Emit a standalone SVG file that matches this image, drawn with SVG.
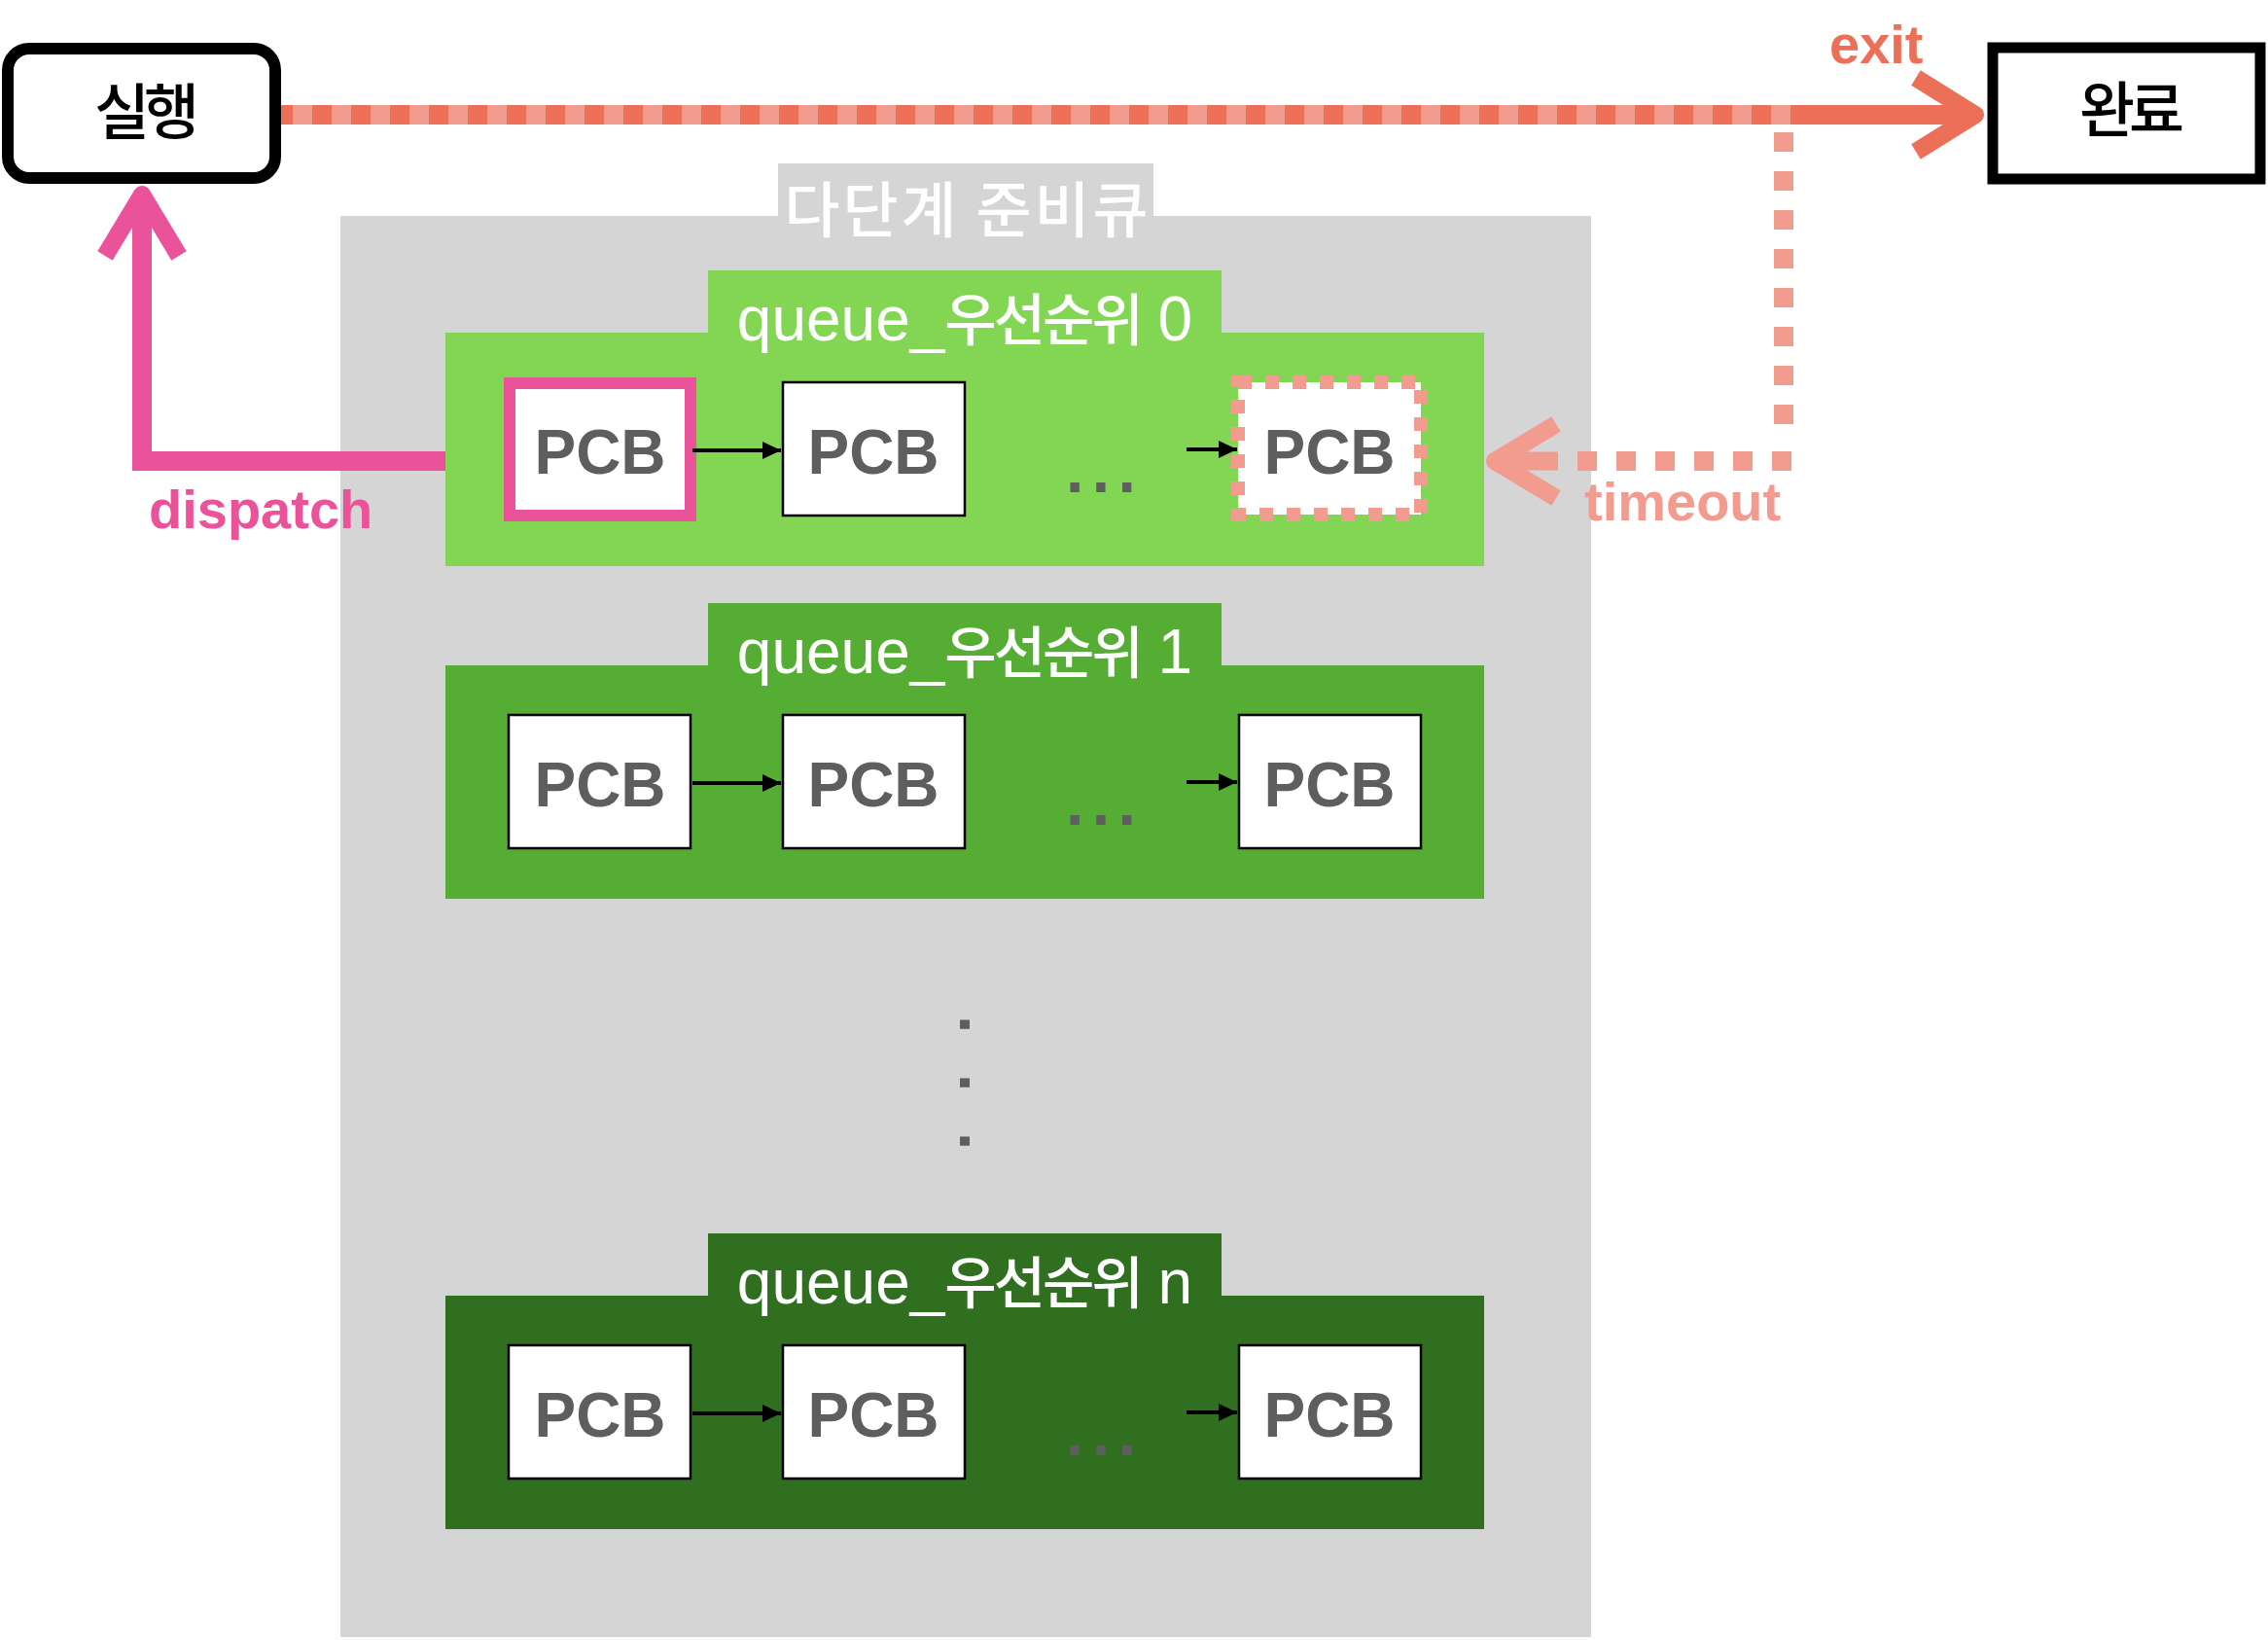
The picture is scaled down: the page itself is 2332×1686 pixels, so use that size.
<svg xmlns="http://www.w3.org/2000/svg" width="2332" height="1686" viewBox="0 0 2332 1686">
  <style>
    .box-label { font-family: 'Noto Sans CJK KR', sans-serif; font-weight: 500; font-size: 62px; fill: #000; text-anchor: middle; letter-spacing: -6px; }
    .q-title { font-family: 'Liberation Sans', 'Noto Sans CJK KR', sans-serif; font-size: 64px; fill: #fff; text-anchor: middle; }
    .hg { font-size: 58px; letter-spacing: -3px; font-weight: 500; }
    .pcb-box { fill: #fff; stroke: #000; stroke-width: 2.5; }
    .pcb-text { font-family: 'Liberation Sans', Arial, sans-serif; font-weight: bold; font-size: 64px; fill: #5e5e5e; text-anchor: middle; }
    .dots { font-family: 'Liberation Sans', Arial, sans-serif; font-weight: bold; font-size: 66px; fill: #5e5e5e; letter-spacing: 8.4px; }
    .link { stroke: #000; stroke-width: 4; fill: none; marker-end: url(#tri); }
    .edge-label { font-family: 'Liberation Sans', Arial, sans-serif; font-weight: bold; font-size: 56px; }
  </style>
  <defs>
    <marker id="tri" markerUnits="userSpaceOnUse" markerWidth="20" markerHeight="20" viewBox="0 0 20 20" refX="19" refY="10" orient="auto">
      <path d="M0,1 L19,10 L0,19 Z" fill="#000"/>
    </marker>
  </defs>

  <rect width="2332" height="1686" fill="#fff"/>

  <!-- multi-level ready queue container -->
  <g id="ready-queue">
    <rect x="800" y="168" width="386" height="56" fill="#d5d5d5"/>
    <rect x="350" y="222" width="1286" height="1461" fill="#d5d5d5"/>
    <text x="995" y="239" style="font-family: 'Noto Sans CJK KR', sans-serif; font-weight: 500; font-size: 62px; fill: #fff; text-anchor: middle; letter-spacing: 3px;">다단계 준비큐</text>
  </g>

  <!-- queue priority 0 -->
  <g id="queue-0">
    <rect x="728" y="278" width="528" height="66" fill="#83d653"/>
    <rect x="458" y="342" width="1068" height="240" fill="#83d653"/>
    <text class="q-title" x="992" y="350">queue_<tspan class="hg">우선순위</tspan> 0</text>
    <g id="q0-pcb1">
      <rect x="524" y="394" width="186" height="136" fill="#fff" stroke="#ea539a" stroke-width="12"/>
      <text class="pcb-text" x="617" y="487">PCB</text>
    </g>
    <g id="q0-pcb2">
      <rect class="pcb-box" x="805" y="393" width="187" height="137"/>
      <text class="pcb-text" x="898" y="487">PCB</text>
    </g>
    <text class="dots" x="1096" y="506">...</text>
    <g id="q0-pcb3">
      <rect x="1273" y="393" width="188" height="136" fill="#fff" stroke="#f29b8f" stroke-width="14" stroke-dasharray="14 14"/>
      <text class="pcb-text" x="1367" y="487">PCB</text>
    </g>
  </g>

  <!-- queue priority 1 -->
  <g id="queue-1">
    <rect x="728" y="620" width="528" height="66" fill="#55ae33"/>
    <rect x="458" y="684" width="1068" height="240" fill="#55ae33"/>
    <text class="q-title" x="992" y="692">queue_<tspan class="hg">우선순위</tspan> 1</text>
    <g id="q1-pcb1">
      <rect class="pcb-box" x="523" y="735" width="187" height="137"/>
      <text class="pcb-text" x="617" y="829">PCB</text>
    </g>
    <g id="q1-pcb2">
      <rect class="pcb-box" x="805" y="735" width="187" height="137"/>
      <text class="pcb-text" x="898" y="829">PCB</text>
    </g>
    <text class="dots" x="1096" y="848">...</text>
    <g id="q1-pcb3">
      <rect class="pcb-box" x="1274" y="735" width="187" height="137"/>
      <text class="pcb-text" x="1367" y="829">PCB</text>
    </g>
  </g>

  <!-- vertical ellipsis -->
  <text class="dots" transform="translate(987,1044) rotate(90)" x="0" y="0" style="letter-spacing:41.7px">...</text>

  <!-- queue priority n -->
  <g id="queue-n">
    <rect x="728" y="1268" width="528" height="66" fill="#306f20"/>
    <rect x="458" y="1332" width="1068" height="240" fill="#306f20"/>
    <text class="q-title" x="992" y="1340">queue_<tspan class="hg">우선순위</tspan> n</text>
    <g id="qn-pcb1">
      <rect class="pcb-box" x="523" y="1383" width="187" height="137"/>
      <text class="pcb-text" x="617" y="1477">PCB</text>
    </g>
    <g id="qn-pcb2">
      <rect class="pcb-box" x="805" y="1383" width="187" height="137"/>
      <text class="pcb-text" x="898" y="1477">PCB</text>
    </g>
    <text class="dots" x="1096" y="1496">...</text>
    <g id="qn-pcb3">
      <rect class="pcb-box" x="1274" y="1383" width="187" height="137"/>
      <text class="pcb-text" x="1367" y="1477">PCB</text>
    </g>
  </g>

  <!-- states -->
  <g id="running">
    <rect x="8" y="50" width="275" height="133" rx="22" ry="22" fill="#fff" stroke="#000" stroke-width="12"/>
    <text class="box-label" x="148" y="138">실행</text>
  </g>
  <g id="terminated">
    <rect x="2049" y="49" width="275" height="135" fill="#fff" stroke="#000" stroke-width="11"/>
    <text class="box-label" x="2189" y="136">완료</text>
  </g>

  <!-- connectors -->
  <g id="connectors">
    <!-- PCB links -->
    <line class="link" x1="712" y1="463" x2="803" y2="463"/>
    <line class="link" x1="1220" y1="462" x2="1272" y2="462"/>
    <line class="link" x1="712" y1="805" x2="803" y2="805"/>
    <line class="link" x1="1220" y1="804" x2="1272" y2="804"/>
    <line class="link" x1="712" y1="1453" x2="803" y2="1453"/>
    <line class="link" x1="1220" y1="1452" x2="1272" y2="1452"/>

    <!-- exit: 실행 -> 완료 -->
    <g id="exit-edge">
      <line x1="289" y1="118" x2="2030" y2="118" stroke="#ec6f58" stroke-width="20"/>
      <polyline points="1970,80 2031,118 1970,156" fill="none" stroke="#ec6f58" stroke-width="18" stroke-linejoin="round"/>
      <text class="edge-label" x="1881" y="65" fill="#ec6f58">exit</text>
    </g>

    <!-- timeout: 실행 -> queue 0 -->
    <g id="timeout-edge" stroke="#f29b8f" fill="none">
      <line x1="301" y1="118" x2="1841" y2="118" stroke-width="20" stroke-dasharray="20 20"/>
      <line x1="1834" y1="136" x2="1834" y2="436" stroke-width="20" stroke-dasharray="20 20"/>
      <line x1="1842" y1="474" x2="1622" y2="474" stroke-width="20" stroke-dasharray="20 20"/>
      <line x1="1602" y1="474" x2="1540" y2="474" stroke-width="19"/>
      <polyline points="1600,436 1537,474 1600,512" stroke-width="18" stroke-linejoin="round"/>
    </g>
    <text class="edge-label" x="1629" y="535" fill="#f29b8f">timeout</text>

    <!-- dispatch: queue 0 -> 실행 -->
    <g id="dispatch-edge" fill="none" stroke="#ea539a">
      <path d="M458,474 H146 V202" stroke-width="20"/>
      <polyline points="108,263 146,200 184,263" stroke-width="18" stroke-linejoin="round"/>
    </g>
    <text class="edge-label" x="153" y="543" fill="#ea539a">dispatch</text>
  </g>
</svg>
